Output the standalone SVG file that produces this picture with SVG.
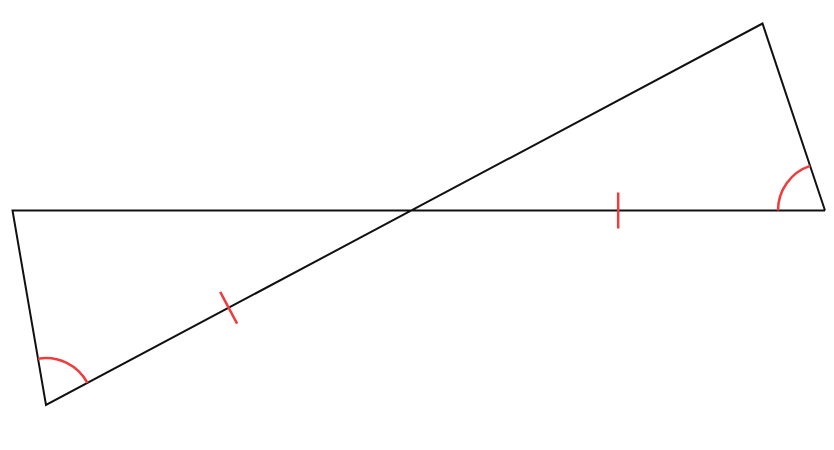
<svg xmlns="http://www.w3.org/2000/svg" width="834" height="450" viewBox="0 0 834 450">
<style>
.edge{fill:none;stroke:#111;stroke-width:2;stroke-linejoin:miter;stroke-linecap:butt}
.mark{fill:none;stroke:#f03c3c;stroke-width:2.5}
</style>
<rect width="834" height="450" fill="#fff"/>
<g id="connectors">
<polyline class="edge" points="825,210.5 12.5,210.5 46,405 762.5,23.5 825,210.5"/>
</g>
<g id="marks">
<path class="mark" d="M38.02,358.68 A47,47 0 0 1 87.49,382.91"/>
<path class="mark" d="M778,210.5 A47,47 0 0 1 810.1,165.93"/>
<line class="mark" x1="618.2" y1="192.5" x2="618.2" y2="228.5"/>
<line class="mark" x1="220.2" y1="291.9" x2="237.1" y2="323.6"/>
</g>
</svg>
